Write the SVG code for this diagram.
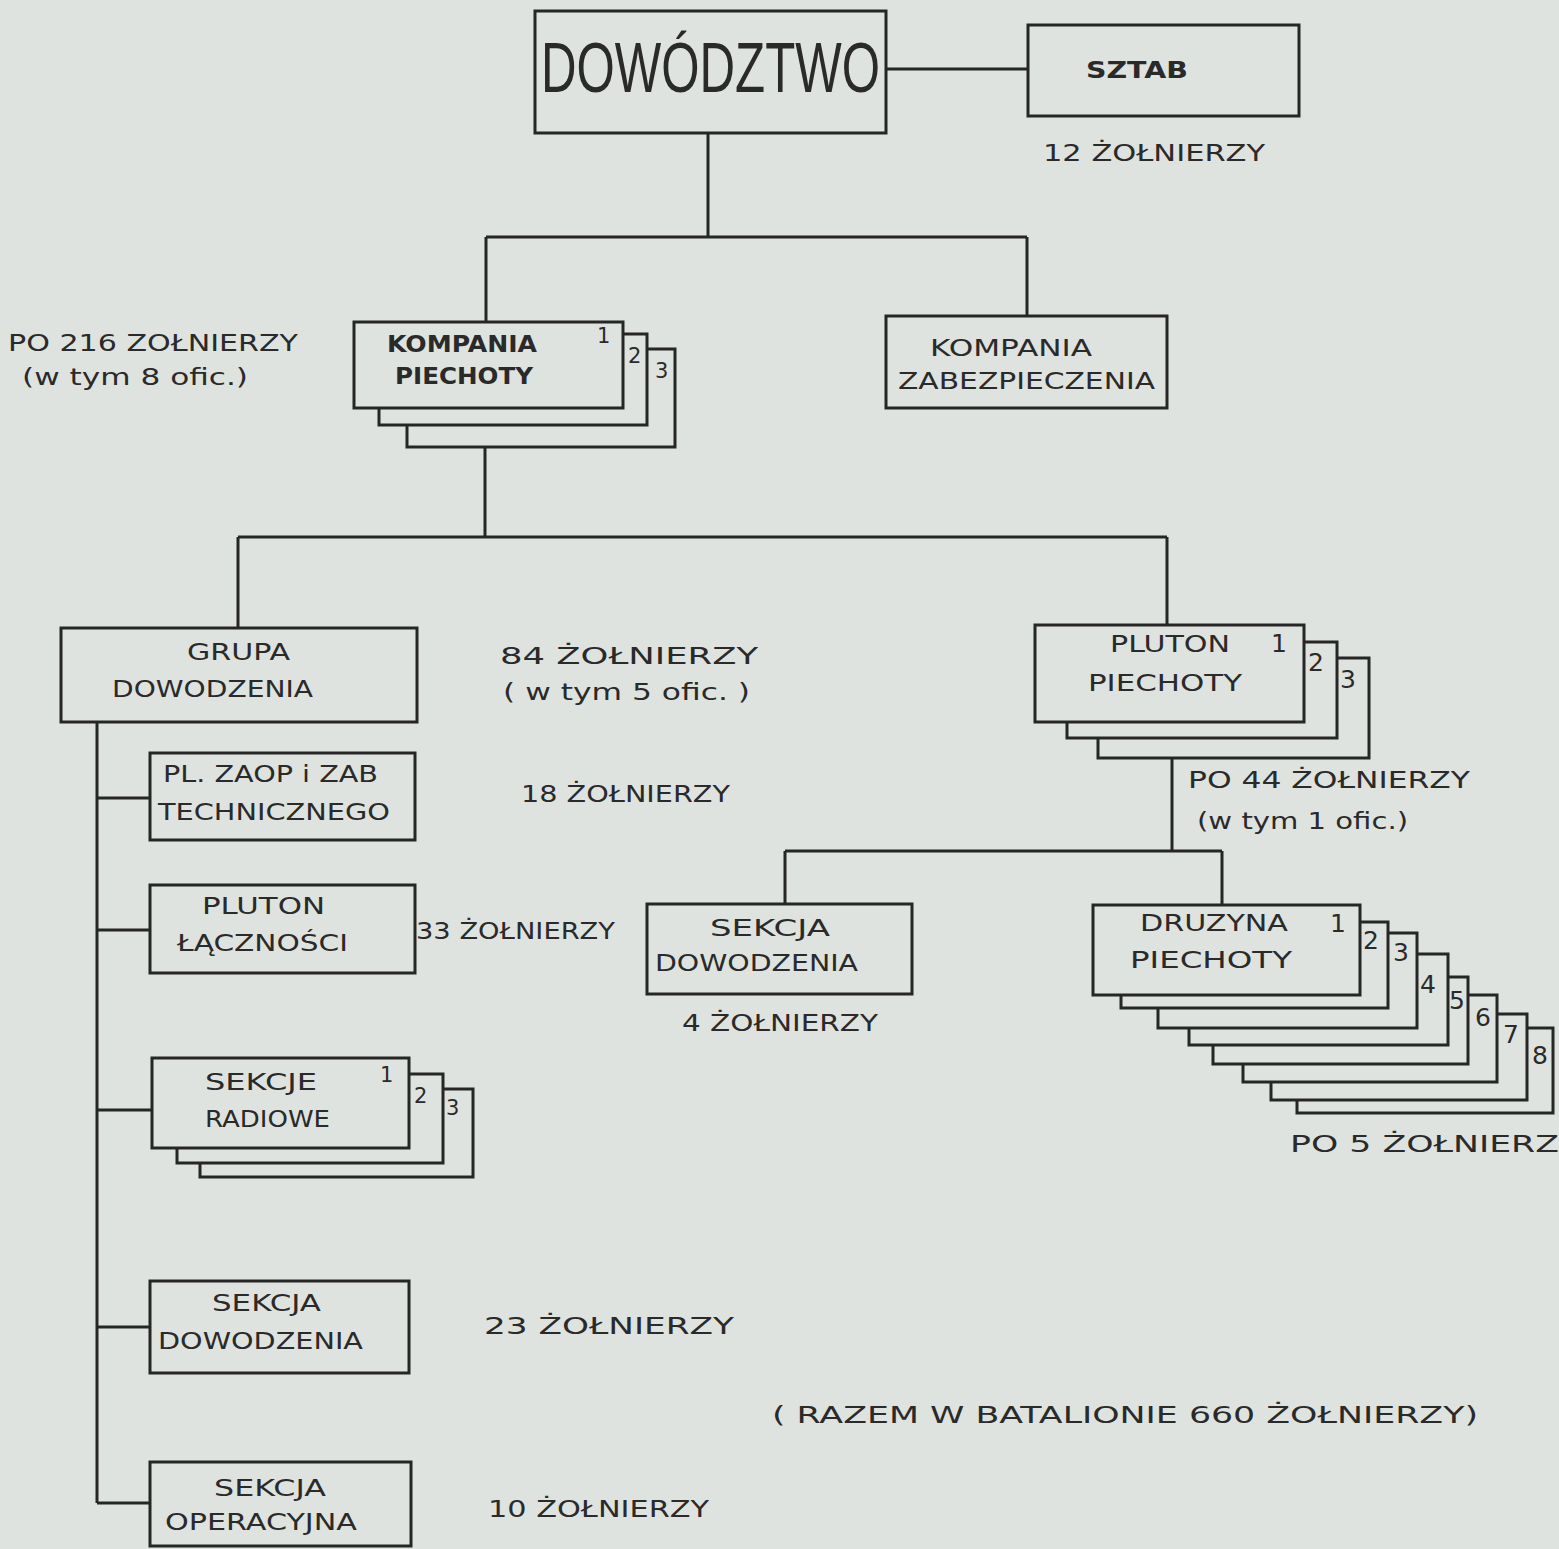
<svg xmlns="http://www.w3.org/2000/svg" width="1559" height="1549" viewBox="0 0 1559 1549">
<style>
.bx{fill:#dfe3df;stroke:#262626;stroke-width:3}
.ln{fill:none;stroke:#262626;stroke-width:3}
.t{font-family:"DejaVu Sans","Liberation Sans",sans-serif;font-size:23px;fill:#2a2a2a}
.n{font-family:"DejaVu Sans","Liberation Sans",sans-serif;font-size:21px;fill:#2a2a2a}
.n2{font-family:"DejaVu Sans","Liberation Sans",sans-serif;font-size:25px;fill:#2a2a2a}
.big{font-family:"Liberation Sans","DejaVu Sans",sans-serif;font-size:70px;fill:#2a2a2a}
</style>
<rect x="0" y="0" width="1559" height="1549" fill="#dfe3df"/>

<g id="connectors">
<path class="ln" d="M886 69H1028M708 133V237M486 237H1027M486 237V322M1027 237V316M485 447V537M238 537H1167M238 537V628M1167 537V625M97 722V1503M97 798H150M97 930H150M97 1110H152M97 1327H150M97 1503H150M1172 758V851M785 851H1222M785 851V904M1222 851V905"/>
</g>

<g id="dowodztwo">
<rect class="bx" x="535" y="11" width="351" height="122"/>
<text class="big" x="541" y="92" textLength="339" lengthAdjust="spacingAndGlyphs">DOWÓDZTWO</text>
</g>

<g id="sztab">
<rect class="bx" x="1028" y="25" width="271" height="91"/>
<text class="t" x="1086" y="78" textLength="102" lengthAdjust="spacingAndGlyphs" font-weight="bold">SZTAB</text>
<text class="t" x="1043" y="161" textLength="222" lengthAdjust="spacingAndGlyphs">12 ŻOŁNIERZY</text>
</g>

<g id="kompania-piechoty">
<rect class="bx" x="407" y="349" width="268" height="98"/>
<rect class="bx" x="379" y="334" width="268" height="91"/>
<rect class="bx" x="354" y="322" width="269" height="86"/>
<text class="t" x="387" y="352" textLength="150" lengthAdjust="spacingAndGlyphs" font-weight="bold">KOMPANIA</text>
<text class="t" x="395" y="384" textLength="138" lengthAdjust="spacingAndGlyphs" font-weight="bold">PIECHOTY</text>
<text class="n" x="597" y="343">1</text>
<text class="n" x="628" y="363">2</text>
<text class="n" x="655" y="378">3</text>
<text class="t" x="8" y="351" textLength="290" lengthAdjust="spacingAndGlyphs">PO 216 ZOŁNIERZY</text>
<text class="t" x="22" y="385" textLength="226" lengthAdjust="spacingAndGlyphs">(w tym 8 ofic.)</text>
</g>

<g id="kompania-zabezpieczenia">
<rect class="bx" x="886" y="316" width="281" height="92"/>
<text class="t" x="930" y="356" textLength="162" lengthAdjust="spacingAndGlyphs">KOMPANIA</text>
<text class="t" x="898" y="389" textLength="257" lengthAdjust="spacingAndGlyphs">ZABEZPIECZENIA</text>
</g>

<g id="grupa-dowodzenia">
<rect class="bx" x="61" y="628" width="356" height="94"/>
<text class="t" x="187" y="660" textLength="103" lengthAdjust="spacingAndGlyphs">GRUPA</text>
<text class="t" x="112" y="697" textLength="201" lengthAdjust="spacingAndGlyphs">DOWODZENIA</text>
<text class="t" x="500" y="664" textLength="258" lengthAdjust="spacingAndGlyphs">84 ŻOŁNIERZY</text>
<text class="t" x="503" y="700" textLength="247" lengthAdjust="spacingAndGlyphs">( w tym 5 ofic. )</text>
</g>

<g id="pluton-piechoty">
<rect class="bx" x="1098" y="658" width="271" height="100"/>
<rect class="bx" x="1067" y="642" width="270" height="96"/>
<rect class="bx" x="1035" y="625" width="269" height="97"/>
<text class="t" x="1110" y="652" textLength="120" lengthAdjust="spacingAndGlyphs">PLUTON</text>
<text class="t" x="1088" y="691" textLength="154" lengthAdjust="spacingAndGlyphs">PIECHOTY</text>
<text class="n2" x="1271" y="652">1</text>
<text class="n2" x="1308" y="671">2</text>
<text class="n2" x="1340" y="688">3</text>
<text class="t" x="1188" y="788" textLength="282" lengthAdjust="spacingAndGlyphs">PO 44 ŻOŁNIERZY</text>
<text class="t" x="1197" y="829" textLength="211" lengthAdjust="spacingAndGlyphs">(w tym 1 ofic.)</text>
</g>

<g id="pl-zaop">
<rect class="bx" x="150" y="753" width="265" height="87"/>
<text class="t" x="163" y="782" textLength="215" lengthAdjust="spacingAndGlyphs">PL. ZAOP i ZAB</text>
<text class="t" x="158" y="820" textLength="232" lengthAdjust="spacingAndGlyphs">TECHNICZNEGO</text>
<text class="t" x="521" y="802" textLength="209" lengthAdjust="spacingAndGlyphs">18 ŻOŁNIERZY</text>
</g>

<g id="pluton-lacznosci">
<rect class="bx" x="150" y="885" width="265" height="88"/>
<text class="t" x="202" y="914" textLength="123" lengthAdjust="spacingAndGlyphs">PLUTON</text>
<text class="t" x="177" y="951" textLength="171" lengthAdjust="spacingAndGlyphs">ŁĄCZNOŚCI</text>
<text class="t" x="416" y="939" textLength="199" lengthAdjust="spacingAndGlyphs">33 ŻOŁNIERZY</text>
</g>

<g id="sekcja-dowodzenia-plutonu">
<rect class="bx" x="647" y="904" width="265" height="90"/>
<text class="t" x="710" y="936" textLength="120" lengthAdjust="spacingAndGlyphs">SEKCJA</text>
<text class="t" x="655" y="971" textLength="203" lengthAdjust="spacingAndGlyphs">DOWODZENIA</text>
<text class="t" x="682" y="1031" textLength="196" lengthAdjust="spacingAndGlyphs">4 ŻOŁNIERZY</text>
</g>

<g id="druzyna-piechoty">
<rect class="bx" x="1297" y="1028" width="256" height="85"/>
<rect class="bx" x="1271" y="1014" width="256" height="86"/>
<rect class="bx" x="1243" y="995" width="254" height="87"/>
<rect class="bx" x="1213" y="977" width="255" height="87"/>
<rect class="bx" x="1189" y="954" width="259" height="91"/>
<rect class="bx" x="1158" y="933" width="259" height="95"/>
<rect class="bx" x="1121" y="922" width="267" height="86"/>
<rect class="bx" x="1093" y="905" width="267" height="90"/>
<text class="t" x="1140" y="931" textLength="148" lengthAdjust="spacingAndGlyphs">DRUZYNA</text>
<text class="t" x="1130" y="968" textLength="162" lengthAdjust="spacingAndGlyphs">PIECHOTY</text>
<text class="n2" x="1330" y="932">1</text>
<text class="n2" x="1363" y="949">2</text>
<text class="n2" x="1393" y="961">3</text>
<text class="n2" x="1420" y="993">4</text>
<text class="n2" x="1449" y="1009">5</text>
<text class="n2" x="1475" y="1026">6</text>
<text class="n2" x="1503" y="1043">7</text>
<text class="n2" x="1532" y="1064">8</text>
<text class="t" x="1290" y="1152" textLength="269" lengthAdjust="spacingAndGlyphs">PO 5 ŻOŁNIERZ</text>
</g>

<g id="sekcje-radiowe">
<rect class="bx" x="200" y="1089" width="273" height="88"/>
<rect class="bx" x="177" y="1074" width="266" height="89"/>
<rect class="bx" x="152" y="1058" width="257" height="90"/>
<text class="t" x="205" y="1090" textLength="112" lengthAdjust="spacingAndGlyphs">SEKCJE</text>
<text class="t" x="205" y="1127" textLength="125" lengthAdjust="spacingAndGlyphs">RADIOWE</text>
<text class="n" x="380" y="1082">1</text>
<text class="n" x="414" y="1103">2</text>
<text class="n" x="446" y="1115">3</text>
</g>

<g id="sekcja-dowodzenia">
<rect class="bx" x="150" y="1281" width="259" height="92"/>
<text class="t" x="212" y="1311" textLength="109" lengthAdjust="spacingAndGlyphs">SEKCJA</text>
<text class="t" x="158" y="1349" textLength="205" lengthAdjust="spacingAndGlyphs">DOWODZENIA</text>
<text class="t" x="484" y="1334" textLength="250" lengthAdjust="spacingAndGlyphs">23 ŻOŁNIERZY</text>
</g>

<g id="sekcja-operacyjna">
<rect class="bx" x="150" y="1462" width="261" height="84"/>
<text class="t" x="214" y="1496" textLength="112" lengthAdjust="spacingAndGlyphs">SEKCJA</text>
<text class="t" x="165" y="1530" textLength="192" lengthAdjust="spacingAndGlyphs">OPERACYJNA</text>
<text class="t" x="488" y="1517" textLength="221" lengthAdjust="spacingAndGlyphs">10 ŻOŁNIERZY</text>
</g>

<g id="razem">
<text class="t" x="772" y="1423" textLength="706" lengthAdjust="spacingAndGlyphs">( RAZEM W BATALIONIE 660 ŻOŁNIERZY)</text>
</g>
</svg>
